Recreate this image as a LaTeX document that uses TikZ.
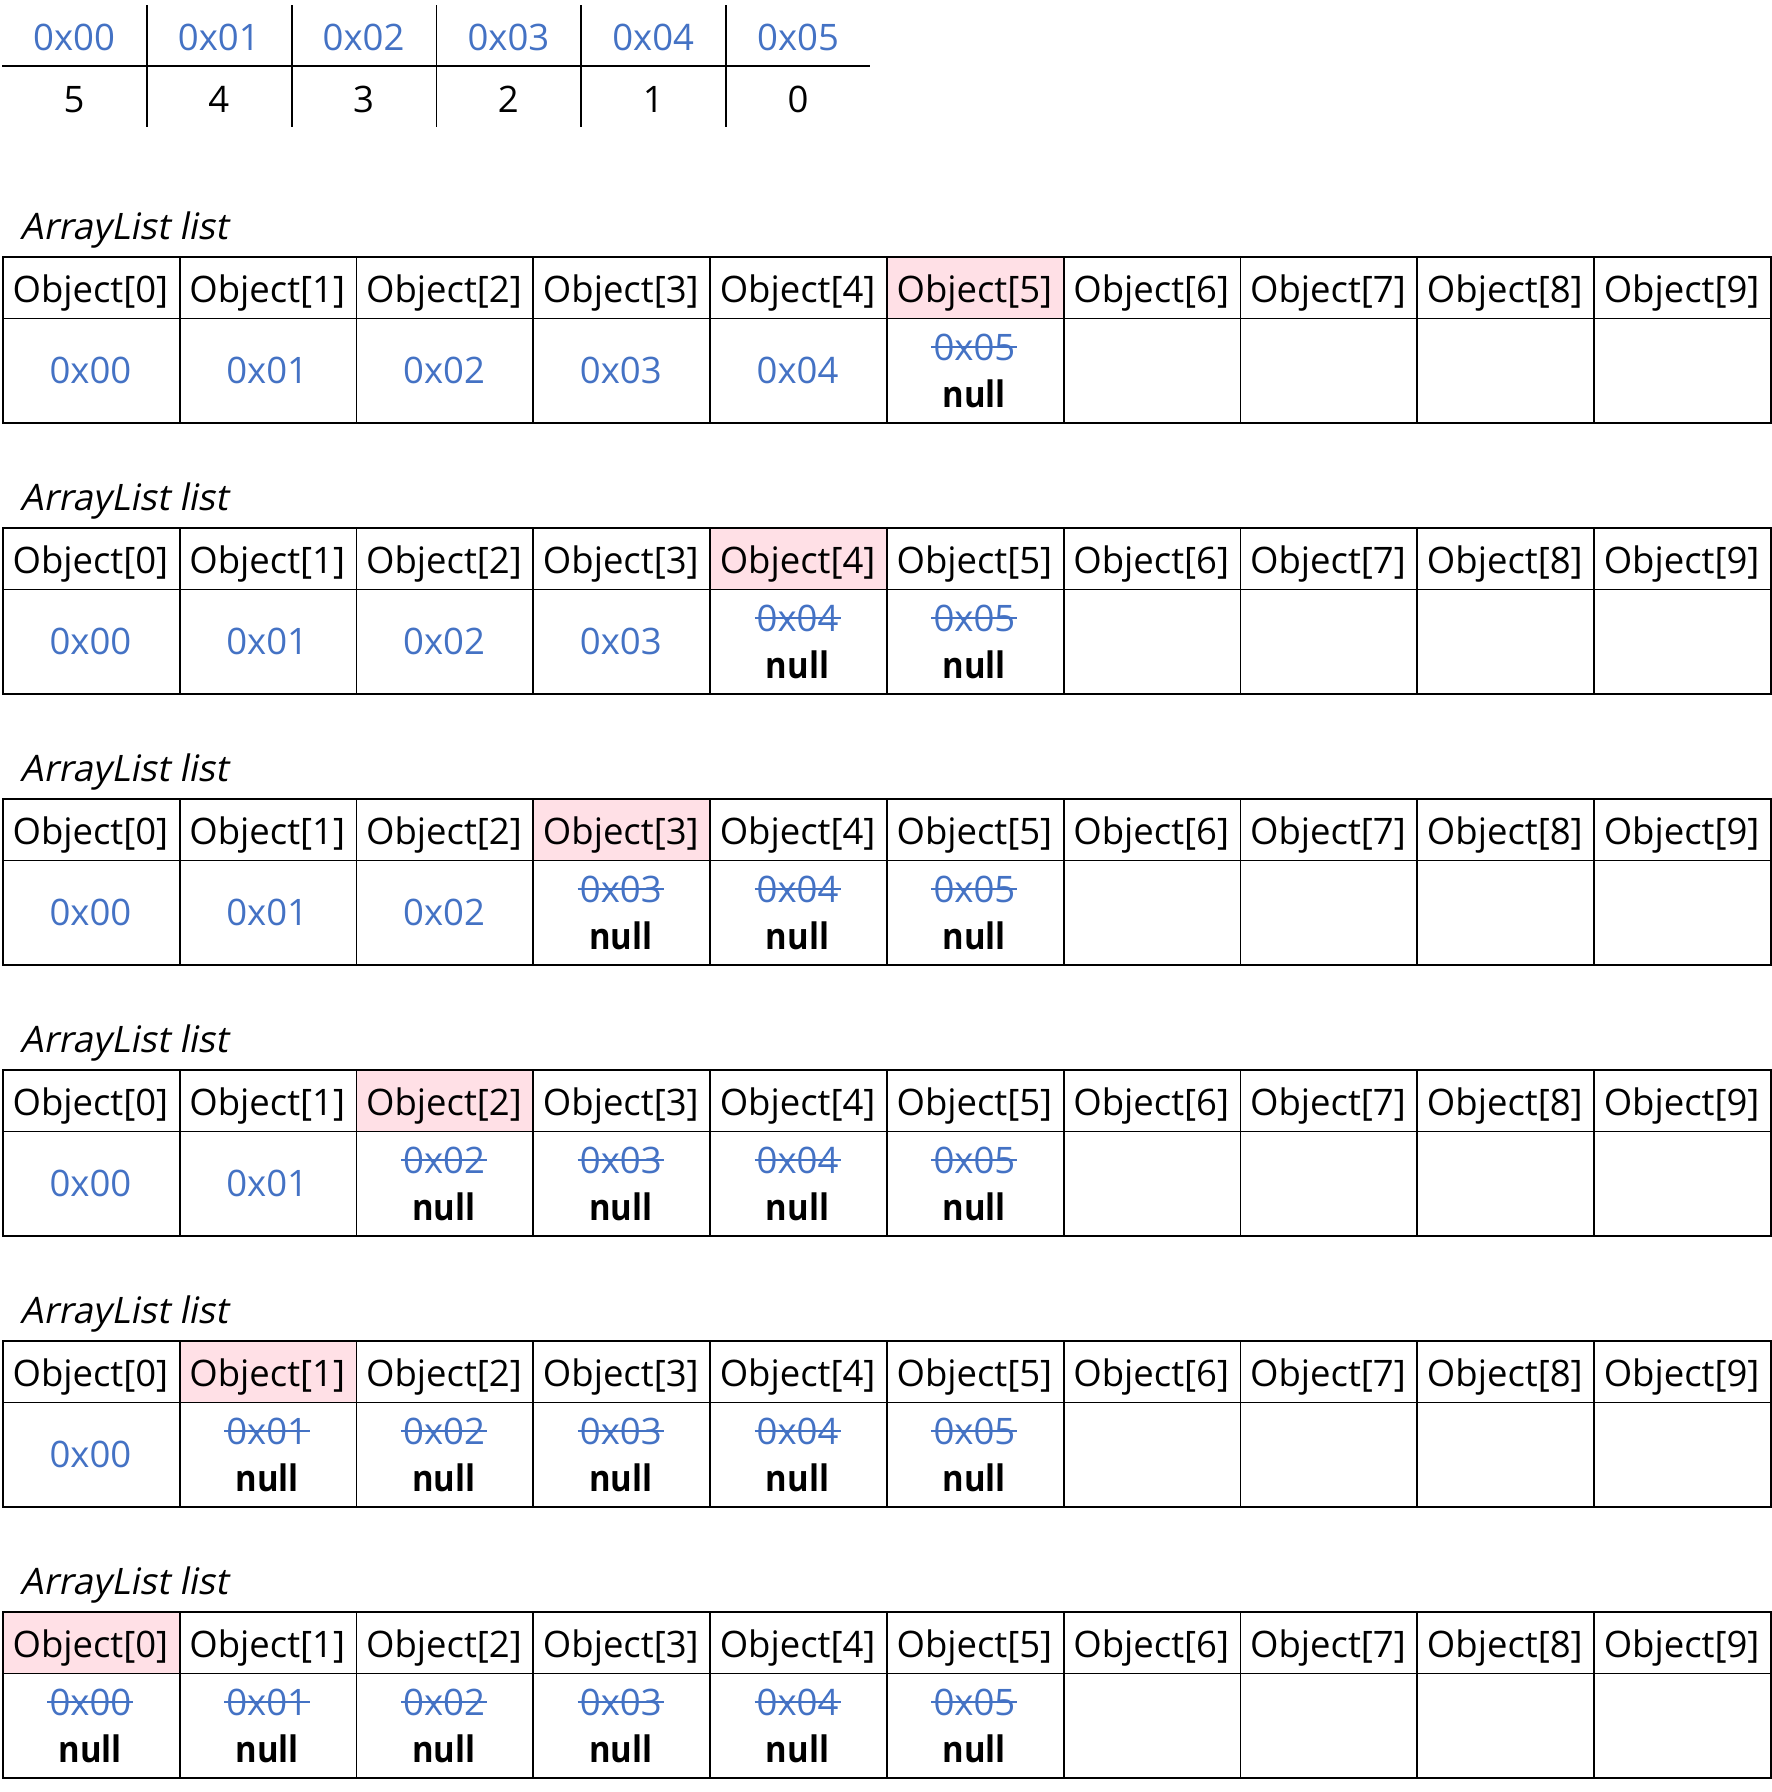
\documentclass[tikz,border=0pt]{standalone}
\usepackage{fontspec}
\setmainfont{Open Sans}[BoldFeatures={FakeStretch=0.9}, ItalicFont={Open Sans}, ItalicFeatures={FakeSlant=0.2}]
\definecolor{addr}{HTML}{4472C4}
\definecolor{hl}{HTML}{FFE0E6}
\begin{document}
\begin{tikzpicture}[x=1pt,y=-1pt,
  every node/.style={font=\fontsize{36.5}{44}\selectfont},
  cell/.style={draw=black, line width=1.8pt, rectangle, inner sep=0pt, minimum width=176.8pt, anchor=north west},
  hcell/.style={cell, minimum height=61.5pt},
  bcell/.style={cell, minimum height=104.5pt},
  hot/.style={fill=hl},
  txt/.style={inner sep=0pt, anchor=base},
  addrtxt/.style={txt, text=addr},
  nulltxt/.style={txt, font=\fontsize{36.5}{44}\selectfont\bfseries},
  strikeline/.style={draw=addr, line width=2pt},
  titletxt/.style={inner sep=0pt, anchor=base west, font=\fontsize{36.5}{44}\selectfont\itshape},
  rule/.style={line width=2pt}
]
\useasboundingbox (0,0) rectangle (1772,1792);
% top mapping table
\foreach \i/\v in {0/5,1/4,2/3,3/2,4/1,5/0} {
  \node[addrtxt] (ta\i) at (74+144.8*\i, 50) {0x0\i};
  \node[txt] (tv\i) at (74+144.8*\i, 112) {\v};
}
\draw[rule] (2,66) -- (870,66);
\foreach \i in {1,...,5} {
  \draw[line width=1.8pt] (2+144.8*\i,5) -- (2+144.8*\i,127);
}
% six ArrayList tables
\foreach \k in {1,...,6} {
  \pgfmathsetmacro\ty{256+271*(\k-1)}
  \pgfmathtruncatemacro\hotc{6-\k}
  \node[titletxt] (title\k) at (20, \ty-17) {ArrayList list};
  \foreach \c in {0,...,9} {
    \pgfmathsetmacro\xl{2+176.8*\c}
    \pgfmathsetmacro\xc{\xl+88.4}
    \ifnum\c=\hotc
      \node[hcell,hot] (h\k-\c) at (\xl,\ty) {};
    \else
      \node[hcell] (h\k-\c) at (\xl,\ty) {};
    \fi
    \node[bcell] (b\k-\c) at (\xl,\ty+61.5) {};
    \node[txt] (ht\k-\c) at (\xc,\ty+46) {Object[\c]};
    \ifnum\c<\hotc
      \node[addrtxt] (v\k-\c) at (\xc,\ty+127) {0x0\c};
    \else
      \ifnum\c<6
        \node[addrtxt] (s\k-\c) at (\xc,\ty+104) {0x0\c};
        \draw[strikeline] ([xshift=-2pt,yshift=13pt]s\k-\c.base west) -- ([xshift=2pt,yshift=13pt]s\k-\c.base east);
        \node[nulltxt] (n\k-\c) at (\xc,\ty+151) {null};
      \fi
    \fi
  }
}
\end{tikzpicture}
\end{document}
